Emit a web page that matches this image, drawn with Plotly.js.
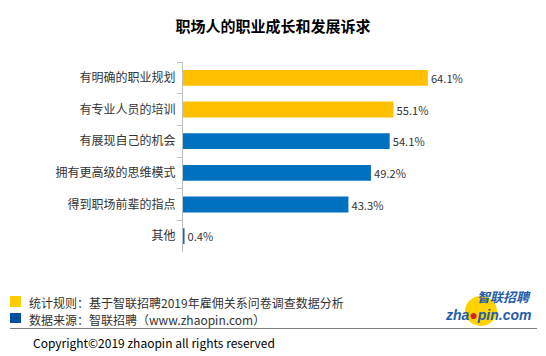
<!DOCTYPE html>
<html><head><meta charset="utf-8">
<script src="https://cdn.plot.ly/plotly-3.0.1.min.js"></script>
<style>html,body{margin:0;padding:0;background:#fff}</style>
</head><body><div id="c" style="width:546px;height:356px"></div>
<script>
var categories = ["有明确的职业规划","有专业人员的培训","有展现自己的机会","拥有更高级的思维模式","得到职场前辈的指点","其他"];
var values = [64.1, 55.1, 54.1, 49.2, 43.3, 0.4];
var labels = ["64.1%","55.1%","54.1%","49.2%","43.3%","0.4%"];
var colors = ["#FFC000","#FFC000","#0070C0","#0070C0","#0070C0","#0070C0"];
var font = "Microsoft YaHei, 'Noto Sans CJK SC', sans-serif";
var L = 183, W = 327, T = 62, H = 190;
function px(x){return (x-L)/W;}
function py(y){return (T+H-y)/H;}
var trace = {
  type:"bar", orientation:"h", y:categories, x:values, text:labels,
  textposition:"outside", cliponaxis:false,
  textfont:{size:12,color:"#333",family:font},
  marker:{color:colors}, width:0.5, hoverinfo:"none"
};
var layout = {
  width:546, height:356, paper_bgcolor:"#fff", plot_bgcolor:"#fff",
  margin:{l:L,r:546-L-W,t:T,b:356-T-H},
  font:{family:font,color:"#333"},
  title:{text:"<b>职场人的职业成长和发展诉求</b>", x:0.5, xanchor:"center", y:1-27/356, yanchor:"middle", font:{size:15,color:"#000",family:font}},
  showlegend:false,
  xaxis:{range:[0,85.6], visible:false, fixedrange:true},
  yaxis:{autorange:"reversed", showline:true, linecolor:"#bfbfbf", linewidth:1, ticks:"outside", tickson:"boundaries", ticklen:5, tickcolor:"#bfbfbf", tickfont:{size:12,color:"#333",family:font}, ticklabelstandoff:4, showgrid:false, zeroline:false},
  shapes:[
    {type:"rect",xref:"paper",yref:"paper",x0:px(10),x1:px(21),y0:py(296),y1:py(307),fillcolor:"#FFCC00",line:{width:0}},
    {type:"rect",xref:"paper",yref:"paper",x0:px(10),x1:px(21),y0:py(313),y1:py(323),fillcolor:"#0050A0",line:{width:0}},
    {type:"line",xref:"paper",yref:"paper",x0:px(10),x1:px(537),y0:py(328.5),y1:py(328.5),line:{color:"#7f7f7f",width:1}},
    {type:"circle",xref:"paper",yref:"paper",x0:px(465),x1:px(497),y0:py(296),y1:py(326),fillcolor:"#FFD200",line:{width:0}}
  ],
  annotations:[
    {xref:"paper",yref:"paper",x:px(27),y:py(302),xanchor:"left",yanchor:"middle",showarrow:false,text:"统计规则：基于智联招聘2019年雇佣关系问卷调查数据分析",font:{size:12,color:"#333",family:font}},
    {xref:"paper",yref:"paper",x:px(27),y:py(319),xanchor:"left",yanchor:"middle",showarrow:false,text:"数据来源：智联招聘（www.zhaopin.com）",font:{size:12,color:"#333",family:font}},
    {xref:"paper",yref:"paper",x:px(31),y:py(342),xanchor:"left",yanchor:"middle",showarrow:false,text:"Copyright©2019 zhaopin all rights reserved",font:{size:12,color:"#000",family:font}},
    {xref:"paper",yref:"paper",x:px(532),y:py(296.5),xanchor:"right",yanchor:"middle",showarrow:false,borderpad:0,text:"<b><i>智联招聘</i></b>",font:{size:13,color:"#1F5DAB",family:font}},
    {xref:"paper",yref:"paper",x:px(532),y:py(315),xanchor:"right",yanchor:"middle",showarrow:false,borderpad:0,text:"<b><i>zha<span style='color:#D62020'>●</span>pin.com</i></b>",font:{size:14,color:"#1F5DAB",family:"Arial, Liberation Sans, sans-serif"}}
  ]
};
Plotly.newPlot("c",[trace],layout,{displayModeBar:false,staticPlot:true});
</script></body></html>
